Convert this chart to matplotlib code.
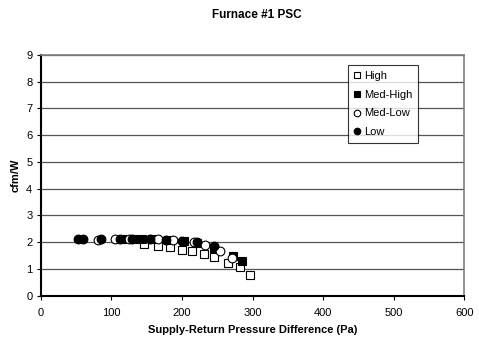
import matplotlib
matplotlib.use("Agg")
import matplotlib.pyplot as plt

plt.rcParams['font.family'] = ['Liberation Sans', 'DejaVu Sans']

# Supply-return pressure difference (Pa) and efficacy (cfm/W) per fan speed
high_x = [147, 166, 183, 200, 215, 231, 245, 265, 282, 296]
high_y = [1.94, 1.86, 1.81, 1.72, 1.66, 1.56, 1.43, 1.24, 1.06, 0.76]

medhigh_x = [115, 132, 144, 158, 181, 203, 222, 246, 272, 285]
medhigh_y = [2.12, 2.12, 2.12, 2.12, 2.10, 2.06, 1.96, 1.79, 1.50, 1.28]

medlow_x = [81, 105, 125, 166, 188, 217, 233, 254, 271]
medlow_y = [2.10, 2.12, 2.12, 2.12, 2.10, 2.00, 1.91, 1.69, 1.41]

low_x = [53, 60, 86, 113, 130, 155, 178, 200, 221, 245]
low_y = [2.12, 2.12, 2.12, 2.12, 2.12, 2.12, 2.10, 2.06, 2.00, 1.85]

x_ticks = [0, 100, 200, 300, 400, 500, 600]
y_ticks = [0, 1, 2, 3, 4, 5, 6, 7, 8, 9]

W, H = 479, 345
fig = plt.figure(figsize=(W / 100, H / 100), dpi=100)
left, right, top, bottom = 40.7, 464.3, 55, 295.7
ax = fig.add_axes([left / W, 1 - bottom / H, (right - left) / W, (bottom - top) / H])

ms = 6.3
ax.plot(high_x, high_y, 's', ms=ms, mfc='white', mec='black', mew=0.8, label='High', zorder=3)
ax.plot(medhigh_x, medhigh_y, 's', ms=ms, mfc='black', mec='black', mew=0.8, label='Med-High', zorder=3)
ax.plot(medlow_x, medlow_y, 'o', ms=ms, mfc='white', mec='black', mew=0.8, label='Med-Low', zorder=3)
ax.plot(low_x, low_y, 'o', ms=ms, mfc='black', mec='black', mew=0.8, label='Low', zorder=3)

ax.set_xlim(0, 600)
ax.set_ylim(0, 9)
ax.set_xticks(x_ticks)
ax.set_yticks(y_ticks)
ax.grid(axis='y', color='#555555', linewidth=0.9, zorder=1)
ax.set_axisbelow(True)

for s in ['top', 'right']:
    ax.spines[s].set_color('#808080')
    ax.spines[s].set_linewidth(1.2)
for s in ['left', 'bottom']:
    ax.spines[s].set_color('black')
    ax.spines[s].set_linewidth(1.5)

ax.tick_params(axis='both', labelsize=8, length=3, width=0.8, direction='out', pad=3)
ax.tick_params(axis='x', pad=6)

ax.set_xlabel('Supply-Return Pressure Difference (Pa)', fontsize=8, fontweight='bold', labelpad=5)
ax.set_ylabel('cfm/W', fontsize=8, fontweight='bold', labelpad=4)
fig.text(257 / W, 1 - 15 / H, 'Furnace #1 PSC', fontsize=8.5, fontweight='bold', ha='center', va='center')

leg = ax.legend(loc='upper left', bbox_to_anchor=(0.725, 0.958), fontsize=8, frameon=True,
                fancybox=False, edgecolor='black', markerscale=0.75, handlelength=0.6,
                handletextpad=0.4, borderpad=0.5, labelspacing=0.8, borderaxespad=0)
leg.get_frame().set_linewidth(0.8)

fig.savefig('out.png', dpi=100)
